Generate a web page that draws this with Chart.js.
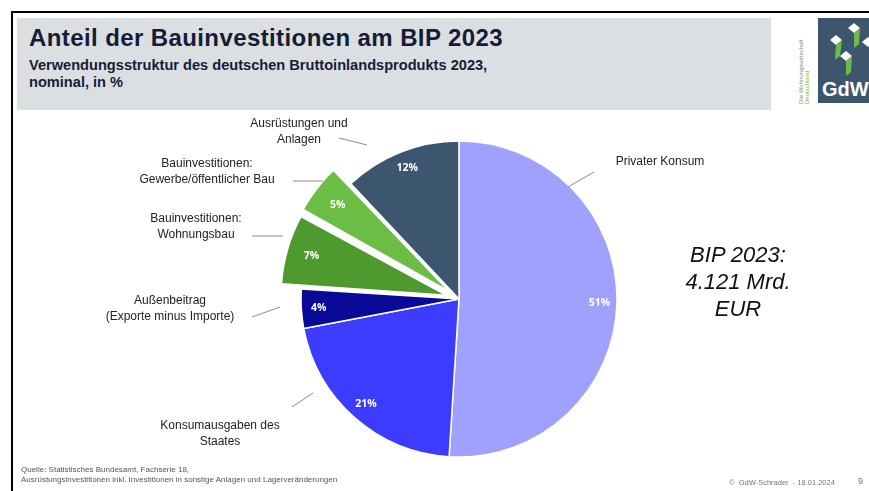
<!DOCTYPE html>
<html lang="de">
<head>
<meta charset="utf-8">
<title>Anteil der Bauinvestitionen am BIP 2023</title>
<script src="https://cdn.jsdelivr.net/npm/chart.js@4.4.1/dist/chart.umd.min.js"></script>
<style>
  html, body { margin: 0; padding: 0; background: #fff; }
  body { width: 869px; height: 491px; position: relative; overflow: hidden; font-family: "Liberation Sans", Arial, sans-serif; }
  #frameTop { position: absolute; left: 11px; top: 11px; right: 0; height: 2px; background: #000; }
  #frameLeft { position: absolute; left: 11px; top: 11px; bottom: 0; width: 2px; background: #000; }
  #titleBox { position: absolute; left: 17px; top: 18px; width: 754px; height: 92px; background: #dcdfe2; }
  #title { position: absolute; left: 29px; top: 24px; font-size: 24px; font-weight: bold; color: #161c38; letter-spacing: 0.4px; }
  #subtitle { position: absolute; left: 29px; top: 57px; font-size: 14.6px; font-weight: bold; color: #161c38; line-height: 17px; }
  #logo { position: absolute; left: 818px; top: 18px; width: 51px; height: 85px; background: #3d566d; overflow: hidden; }
  #logo .gdw { position: absolute; left: 4px; bottom: 2px; color: #fff; font: bold 20px "Liberation Sans", Arial, sans-serif; }
  #vtext { position: absolute; left: 798px; top: 104px; transform: rotate(-90deg); transform-origin: 0 0; font-size: 6px; line-height: 6px; color: #8a8a8a; white-space: nowrap; }
  #vtext span { color: #7dbb3a; }
  #bip { position: absolute; left: 658px; top: 241px; width: 160px; text-align: center; font-style: italic; font-size: 22px; line-height: 27px; color: #111; }
  #source { position: absolute; left: 21px; top: 465px; font-size: 8px; line-height: 10px; color: #555; }
  #footer { position: absolute; left: 729px; top: 478px; font-size: 7.5px; color: #777; }
  #page { position: absolute; left: 858px; top: 476px; font-size: 9px; color: #777; }
  #chart { position: absolute; left: 0; top: 0; }
</style>
</head>
<body>
<div id="frameTop"></div>
<div id="frameLeft"></div>
<div id="titleBox"></div>
<div id="title">Anteil der Bauinvestitionen am BIP 2023</div>
<div id="subtitle">Verwendungsstruktur des deutschen Bruttoinlandsprodukts 2023,<br>nominal, in %</div>
<div id="vtext">Die Wohnungswirtschaft<br><span>Deutschland</span></div>
<div id="logo">
  <svg width="51" height="62" viewBox="0 0 51 62">
    <polygon points="12,22 18,17 24,22 18,27" fill="#fff"/>
    <polygon points="18,27 24,22 22,38 17,42" fill="#6cbd45"/>
    <polygon points="30,10 36,5 42,10 36,15" fill="#fff"/>
    <polygon points="36,15 42,10 41,26 36,30" fill="#6cbd45"/>
    <polygon points="22,38 28,33 34,38 28,43" fill="#fff"/>
    <polygon points="28,43 34,38 33,54 28,58" fill="#6cbd45"/>
    <polygon points="44,24 50,19 56,24 50,29" fill="#fff"/>
  </svg>
  <div class="gdw">GdW</div>
</div>
<canvas id="chart" width="869" height="491"></canvas>
<div id="bip">BIP 2023:<br>4.121 Mrd.<br>EUR</div>
<div id="source">Quelle: Statistisches Bundesamt, Fachserie 18,<br>Ausrüstungsinvestitionen inkl. Investitionen in sonstige Anlagen und Lagerveränderungen</div>
<div id="footer">©&nbsp; GdW-Schrader &nbsp;- 18.01.2024</div>
<div id="page">9</div>

<script>
// Data (shares of GDP 2023, in %)
const categories = [
    ['Privater Konsum'],
    ['Konsumausgaben des', 'Staates'],
    ['Außenbeitrag', '(Exporte minus Importe)'],
    ['Bauinvestitionen:', 'Wohnungsbau'],
    ['Bauinvestitionen:', 'Gewerbe/öffentlicher Bau'],
    ['Ausrüstungen und', 'Anlagen']
];
const shares = [51, 21, 4, 7, 5, 12];

// Styling
const sliceColors = ['#a0a0ff', '#3c3cff', '#0a0a99', '#4e9a2e', '#6cbd45', '#3b566e'];
const explode = [0, 0, 0, 13, 13, 0]; // pixels a slice is pulled out

// Where the outer category labels sit, and their leader lines [x1, y1, x2, y2]
const labelLayout = [
    { x: 660, y: 162, line: [568, 187, 594, 172] },
    { x: 220, y: 426, line: [292, 407, 313, 393] },
    { x: 170, y: 301, line: [252, 317, 280, 307] },
    { x: 196, y: 219, line: [252, 236, 283, 236] },
    { x: 207, y: 164, line: [293, 181, 323, 181] },
    { x: 299, y: 124, line: [339, 138, 367, 145] }
];

// Plugin: percentage inside slices + outer labels with leader lines
const sliceLabels = {
    id: 'sliceLabels',
    afterDatasetsDraw(chart) {
        const ctx = chart.ctx;
        const meta = chart.getDatasetMeta(0);
        ctx.save();

        meta.data.forEach((arc, i) => {
            const mid = (arc.startAngle + arc.endAngle) / 2;
            const r = arc.outerRadius * 0.89 + explode[i];
            const px = arc.x + Math.cos(mid) * r;
            const py = arc.y + Math.sin(mid) * r;
            ctx.fillStyle = '#ffffff';
            ctx.font = 'bold 10.5px "Open Sans", sans-serif';
            ctx.textAlign = 'center';
            ctx.textBaseline = 'middle';
            ctx.fillText(shares[i] + '%', px, py);
        });

        categories.forEach((lines, i) => {
            const lay = labelLayout[i];
            ctx.strokeStyle = '#8a8a8a';
            ctx.lineWidth = 1;
            ctx.beginPath();
            ctx.moveTo(lay.line[0], lay.line[1]);
            ctx.lineTo(lay.line[2], lay.line[3]);
            ctx.stroke();

            ctx.fillStyle = '#222';
            ctx.font = '12px "Liberation Sans", Arial, sans-serif';
            ctx.textAlign = 'center';
            ctx.textBaseline = 'middle';
            lines.forEach((t, j) => ctx.fillText(t, lay.x, lay.y + j * 16));
        });
        ctx.restore();
    }
};

new Chart(document.getElementById('chart').getContext('2d'), {
    type: 'pie',
    data: {
        labels: categories.map(c => c.join(' ')),
        datasets: [{
            data: shares,
            backgroundColor: sliceColors,
            borderColor: '#ffffff',
            borderWidth: 1.5,
            offset: explode.map(v => v * 4), // Chart.js moves an arc by offset / 4
            radius: 158
        }]
    },
    options: {
        responsive: false,
        animation: false,
        layout: { padding: { left: 49, top: 107, right: 0, bottom: 0 } },
        plugins: {
            legend: { display: false },
            tooltip: { enabled: false }
        }
    },
    plugins: [sliceLabels]
});
</script>
</body>
</html>
